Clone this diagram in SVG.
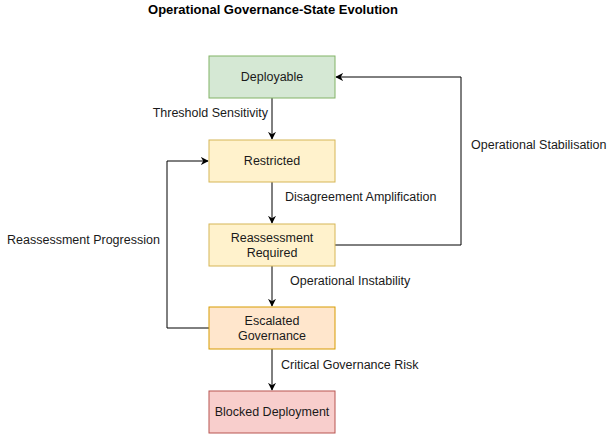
<svg xmlns="http://www.w3.org/2000/svg" width="607" height="438" viewBox="0 0 607 438">
<style>
text{font-family:"Liberation Sans",Arial,sans-serif;font-size:12.5px;fill:#1a1a1a}
.c{text-anchor:middle}
.e{fill:none;stroke:#000;stroke-width:1}
.title{font-weight:bold;font-size:13px;fill:#000}
</style>
<defs>
<marker id="a" viewBox="0 0 10 10" refX="9" refY="5" markerWidth="8" markerHeight="8" orient="auto" markerUnits="userSpaceOnUse"><path d="M0,0 L10,5 L0,10 L3,5 z" fill="#000"/></marker>
</defs>
<rect width="607" height="438" fill="#fff"/>
<text class="title c" x="273" y="14">Operational Governance-State Evolution</text>
<g id="connectors">
<path class="e" d="M272,98 V139" marker-end="url(#a)"/>
<path class="e" d="M272,182 V223" marker-end="url(#a)"/>
<path class="e" d="M272,266 V306" marker-end="url(#a)"/>
<path class="e" d="M272,349 V390" marker-end="url(#a)"/>
<path class="e" d="M335,245 H461 V77 H336" marker-end="url(#a)"/>
<path class="e" d="M209,328 H167 V161 H208" marker-end="url(#a)"/>
<text x="268" y="117" text-anchor="end">Threshold Sensitivity</text>
<text x="285" y="201">Disagreement Amplification</text>
<text x="290" y="285">Operational Instability</text>
<text x="281" y="369">Critical Governance Risk</text>
<text x="471" y="149">Operational Stabilisation</text>
<text x="7" y="244">Reassessment Progression</text>
</g>
<g id="deployable"><rect x="209" y="56" width="126" height="42" fill="#d5e8d4" stroke="#82b366"/><text class="c" x="272" y="81">Deployable</text></g>
<g id="restricted"><rect x="209" y="140" width="126" height="42" fill="#fff2cc" stroke="#d6b656"/><text class="c" x="272" y="165">Restricted</text></g>
<g id="reassessment"><rect x="209" y="224" width="126" height="42" fill="#fff2cc" stroke="#d6b656"/><text class="c" x="272" y="242">Reassessment</text><text class="c" x="272" y="257">Required</text></g>
<g id="escalated"><rect x="209" y="307" width="126" height="42" fill="#ffe6cc" stroke="#d79b00"/><text class="c" x="272" y="325">Escalated</text><text class="c" x="272" y="340">Governance</text></g>
<g id="blocked"><rect x="209" y="391" width="126" height="42" fill="#f8cecc" stroke="#b85450"/><text class="c" x="272" y="416">Blocked Deployment</text></g>
</svg>
